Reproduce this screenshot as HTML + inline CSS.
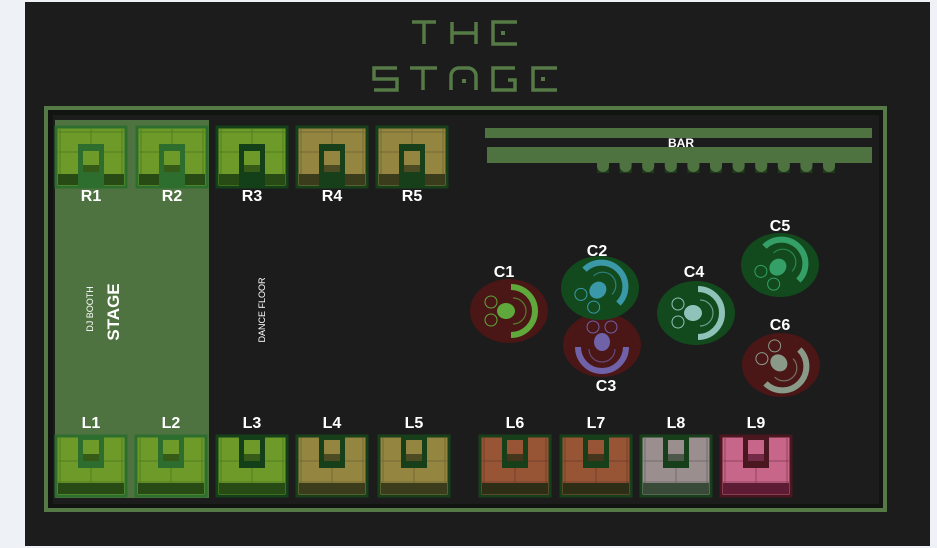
<!DOCTYPE html>
<html><head><meta charset="utf-8"><style>
html,body{margin:0;padding:0;background:#eef1f5;width:937px;height:548px;overflow:hidden}
svg{display:block}
text{font-family:"Liberation Sans",sans-serif;font-weight:bold;fill:#fff}
text.n{font-weight:normal}
</style></head><body>
<svg id="s" width="937" height="548" viewBox="0 0 937 548" xmlns="http://www.w3.org/2000/svg">
<rect x="0" y="0" width="937" height="548" fill="#eef1f5"/>
<rect x="25" y="2" width="905" height="544" fill="#1c1c1c"/>
<g fill="none" stroke="#557a45" stroke-width="3.5">
<path d="M412 22h24M424 22v22"/>
<path d="M452 22v22M476 22v22M452 33h24"/>
<path d="M517 22h-24v22h24"/>
</g>
<rect x="501" y="31" width="4" height="4" fill="#557a45"/>
<g fill="none" stroke="#557a45" stroke-width="3.5">
<path d="M397 68h-23v11h23v11h-23"/>
<path d="M410 68h27M423 68v22"/>
<path d="M451 90v-14a8 8 0 0 1 8-8h9a8 8 0 0 1 8 8v14"/>
<path d="M515 68h-22v22h22v-10h-7"/>
<path d="M557 68h-24v22h24"/>
</g>
<rect x="462" y="79" width="4" height="4" fill="#557a45"/>
<rect x="541" y="77" width="4" height="4" fill="#557a45"/>
<rect x="46" y="108" width="839" height="402" fill="#121412" stroke="#557a45" stroke-width="4"/>
<rect x="53" y="115" width="826" height="389" fill="#1c1c1c"/>
<rect x="55" y="120" width="154" height="378" fill="#4e7340"/>
<text class="n" x="93" y="309" font-size="9" transform="rotate(-90 93 309)" text-anchor="middle">DJ BOOTH</text>
<text x="119" y="312" font-size="17" transform="rotate(-90 119 312)" text-anchor="middle">STAGE</text>
<text class="n" x="265" y="310" font-size="9" transform="rotate(-90 265 310)" text-anchor="middle">DANCE FLOOR</text>
<rect x="485" y="128" width="387" height="10" fill="#4e7340"/>
<rect x="487" y="147" width="385" height="16" fill="#4e7340"/>
<text x="681" y="147" font-size="12" text-anchor="middle">BAR</text>
<g id="bumps"></g>
<g id="tables"></g>
<g id="chairs"></g>
</svg>
<script>
var NS="http://www.w3.org/2000/svg";
function add(p,tag,a,txt){var e=document.createElementNS(NS,tag);for(var k in a)e.setAttribute(k,a[k]);if(txt)e.textContent=txt;p.appendChild(e);return e;}
var b=document.getElementById('bumps');
for(var i=0;i<11;i++){var x=597+i*22.6;add(b,'rect',{x:x,y:163,width:12,height:10,fill:'#1f3a1a'});add(b,'path',{d:'M'+x+' 163h12v3a6 6 0 0 1-12 0z',fill:'#4e7340'});}
var T=document.getElementById('tables');
function table(x,y,fill,dark,band,edge,up,label,ly){
 var w=70,h=60;
 add(T,'rect',{x:x,y:y,width:w,height:h,fill:fill,stroke:edge,'stroke-width':3});
 var g=add(T,'g',{stroke:dark,'stroke-width':1,opacity:0.6});
 add(g,'line',{x1:x+4,y1:y+2,x2:x+4,y2:y+h-12});add(g,'line',{x1:x+w-4,y1:y+2,x2:x+w-4,y2:y+h-12});
 if(!up){add(g,'line',{x1:x+2,y1:y+5,x2:x+w-2,y2:y+5});add(g,'line',{x1:x+2,y1:y+25,x2:x+w-2,y2:y+25});add(g,'line',{x1:x+w/2,y1:y+2,x2:x+w/2,y2:y+h-12});
  add(T,'rect',{x:x+2,y:y+h-13,width:w-4,height:11,fill:band});
  add(T,'rect',{x:x+22,y:y+17,width:26,height:h-17,fill:edge});
  add(T,'rect',{x:x+27,y:y+24,width:16,height:21,fill:fill});
  add(T,'rect',{x:x+27,y:y+38,width:16,height:7,fill:band,opacity:0.8});
 }else{add(g,'line',{x1:x+2,y1:y+25,x2:x+w-2,y2:y+25});add(g,'line',{x1:x+2,y1:y+46,x2:x+w-2,y2:y+46});add(g,'line',{x1:x+w/2,y1:y+25,x2:x+w/2,y2:y+h-12});
  add(T,'rect',{x:x+2,y:y+h-13,width:w-4,height:11,fill:band});
  add(T,'rect',{x:x+22,y:y,width:26,height:32,fill:edge});
  add(T,'rect',{x:x+27,y:y+4,width:16,height:21,fill:fill});
  add(T,'rect',{x:x+27,y:y+18,width:16,height:7,fill:band,opacity:0.8});
 }
 add(T,'text',{x:x+w/2,y:ly,'font-size':16,'text-anchor':'middle'},label);
}
var G='#6e9a2a',GB='#284a14',GE='#2d6d2e',Y='#948640',YB='#3a3c1c',YE='#163f1a';
table(56,127,G,'#3e6a1a',GB,GE,false,'R1',201);
table(137,127,G,'#3e6a1a',GB,GE,false,'R2',201);
table(217,127,G,'#3e6a1a',GB,'#134019',false,'R3',201);
table(297,127,Y,'#5d5a2c',YB,YE,false,'R4',201);
table(377,127,Y,'#5d5a2c',YB,YE,false,'R5',201);
table(56,436,G,'#3e6a1a',GB,GE,true,'L1',428);
table(136,436,G,'#3e6a1a',GB,GE,true,'L2',428);
table(217,436,G,'#3e6a1a',GB,'#134019',true,'L3',428);
table(297,436,Y,'#5d5a2c',YB,YE,true,'L4',428);
table(379,436,Y,'#5d5a2c',YB,YE,true,'L5',428);
table(480,436,'#985536','#5a3020','#2e2e16','#163f1a',true,'L6',428);
table(561,436,'#985536','#5a3020','#2e2e16','#163f1a',true,'L7',428);
table(641,436,'#9a8f8e','#555','#3a4a38','#163f1a',true,'L8',428);
table(721,436,'#c8668a','#6a2a40','#5e1c34','#4a1620',true,'L9',428);
var C=document.getElementById('chairs');
function chair(cx,cy,bg,arc,rot,label,lx,ly){
 add(C,'ellipse',{cx:cx,cy:cy,rx:39,ry:32,fill:bg});
 var g=add(C,'g',{transform:'translate('+cx+' '+cy+') rotate('+rot+')'});
 add(g,'path',{d:'M2 -24 A24 24 0 0 1 2 24',fill:'none',stroke:arc,'stroke-width':6});
 add(g,'path',{d:'M4 -13 A13 13 0 0 1 4 13',fill:'none',stroke:arc,'stroke-width':1.2,opacity:0.7});
 add(g,'ellipse',{cx:-3,cy:0,rx:9,ry:8,fill:arc});
 add(g,'circle',{cx:-18,cy:-9,r:6,fill:'none',stroke:arc,'stroke-width':1});
 add(g,'circle',{cx:-18,cy:9,r:6,fill:'none',stroke:arc,'stroke-width':1});
 add(C,'text',{x:lx,y:ly,'font-size':16,'text-anchor':'middle'},label);
}
chair(509,311,'#4a1616','#5fa83c',0,'C1',504,277);
chair(602,345,'#4a1616','#6f62a8',90,'C3',606,391);
chair(600,288,'#124a1e','#3a98a8',-45,'C2',597,256);
chair(696,313,'#124a1e','#8fc2b8',0,'C4',694,277);
chair(780,265,'#124a1e','#34a067',-45,'C5',780,231);
chair(781,365,'#4a1616','#8a9a88',45,'C6',780,330);
</script>
</body></html>
